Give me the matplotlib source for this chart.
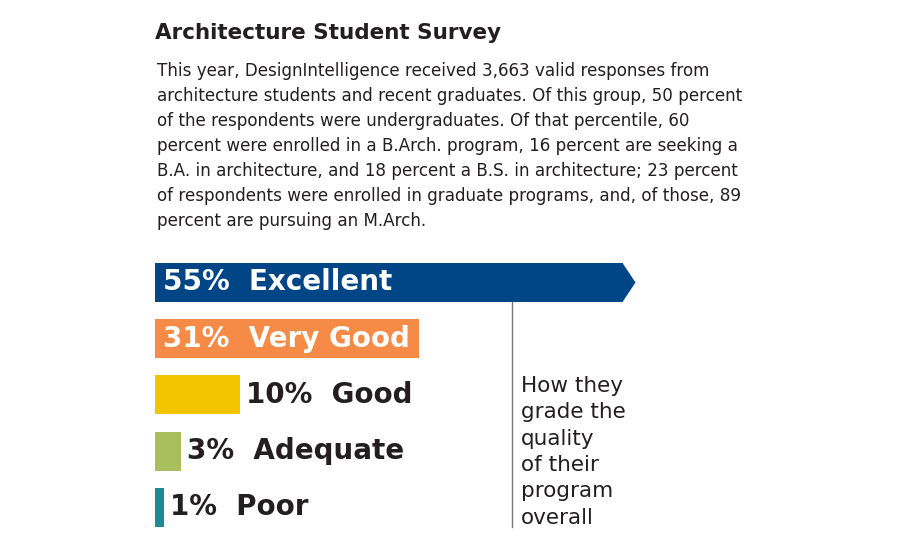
import matplotlib
matplotlib.use("Agg")
import matplotlib.pyplot as plt
from matplotlib.patches import Polygon
from matplotlib.lines import Line2D

W, H = 900, 550

categories = ["Excellent", "Very Good", "Good", "Adequate", "Poor"]
percents = [55, 31, 10, 3, 1]
colors = ["#004585", "#F68B47", "#F2C500", "#A9BE5C", "#1B8A94"]
inside = [True, True, False, False, False]

title = "Architecture Student Survey"
body = [
    "This year, DesignIntelligence received 3,663 valid responses from",
    "architecture students and recent graduates. Of this group, 50 percent",
    "of the respondents were undergraduates. Of that percentile, 60",
    "percent were enrolled in a B.Arch. program, 16 percent are seeking a",
    "B.A. in architecture, and 18 percent a B.S. in architecture; 23 percent",
    "of respondents were enrolled in graduate programs, and, of those, 89",
    "percent are pursuing an M.Arch.",
]
side_note = ["How they", "grade the", "quality", "of their", "program", "overall"]

DARK = "#231f20"


def fx(px):
    return px / W


def fy(py):
    return 1 - py / H


fig = plt.figure(figsize=(9, 5.5), dpi=100)
fig.patch.set_facecolor("white")

fig.text(fx(155), fy(33), title, fontsize=15.5, fontweight="bold",
         family="DejaVu Sans", color=DARK, va="center", ha="left")

for i, line in enumerate(body):
    fig.text(fx(157), fy(71 + i * 25), line, fontsize=12.1,
             family="DejaVu Sans", color=DARK, va="center", ha="left")

# bar axes: 8.5 px per percent, 56.25 px per row
ax = fig.add_axes([fx(155), fy(535.6), fx(745), 281.25 / H])
ax.set_xlim(0, 745 / 8.5)
ax.set_ylim(len(categories) - 0.5, -0.5)
ax.axis("off")

bar_h = 39 / 56.25
ypos = list(range(len(categories)))
ax.barh(ypos, percents, height=bar_h, color=colors, left=0)

# arrow tip on the top bar
tip = 13 / 8.5
ax.add_patch(Polygon([(percents[0], ypos[0] - bar_h / 2),
                      (percents[0] + tip, ypos[0]),
                      (percents[0], ypos[0] + bar_h / 2)],
                     closed=True, color=colors[0], lw=0))

for y, p, cat, ins in zip(ypos, percents, categories, inside):
    label = f"{p}%  {cat}"
    if ins:
        ax.annotate(label, xy=(0, y), xytext=(6, 0), textcoords="offset points",
                    ha="left", va="center", fontsize=20, fontweight="bold",
                    family="DejaVu Sans", color="white")
    else:
        ax.annotate(label, xy=(p, y), xytext=(4.5, 0), textcoords="offset points",
                    ha="left", va="center", fontsize=20, fontweight="bold",
                    family="DejaVu Sans", color=DARK)

fig.add_artist(Line2D([fx(512), fx(512)], [fy(302), fy(527)],
                      color="#777777", lw=1.0))

for i, line in enumerate(side_note):
    fig.text(fx(521), fy(386 + i * 26.3), line, fontsize=15.5,
             family="DejaVu Sans", color=DARK, va="center", ha="left")

fig.savefig("out.png", dpi=100, facecolor="white")
